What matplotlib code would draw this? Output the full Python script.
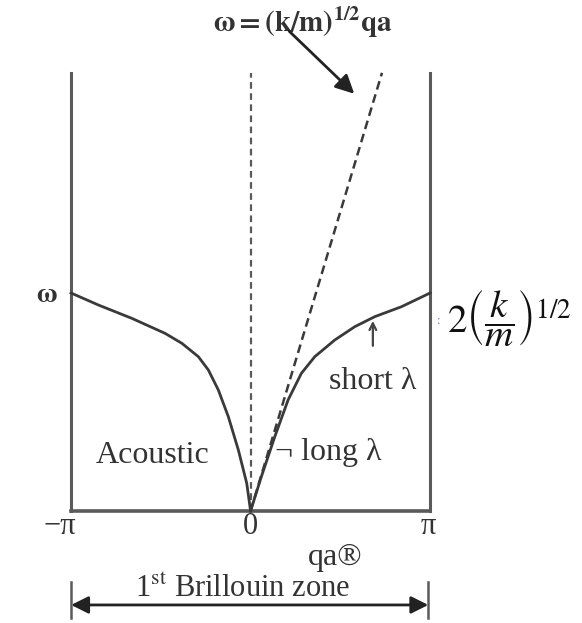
import numpy as np
import matplotlib.pyplot as plt

plt.rcParams['font.family'] = ['Liberation Serif', 'DejaVu Serif']
plt.rcParams['mathtext.fontset'] = 'stix'

# =========================
# Curva de dispersión (qa, omega en unidades de (k/m)^1/2)
# =========================
qa_izq = [-np.pi, -2.664, -2.080, -1.497, -1.204, -0.914, -0.739, -0.564,
          -0.389, -0.214, -0.067, 0.0]
w_izq = [2.00, 1.890, 1.768, 1.630, 1.539, 1.416, 1.294, 1.110,
         0.865, 0.560, 0.254, 0.0]

qa_der = [0.0, 0.189, 0.424, 0.656, 0.889, 1.124, 1.474, 1.824, 2.174, 2.640, np.pi]
w_der = [0.0, 0.315, 0.682, 1.018, 1.263, 1.416, 1.569, 1.691, 1.783, 1.874, 2.00]

# Recta del límite de onda larga y borde superior
qa_recta = [0.0, 2.30]
w_recta = [0.0, 4.02]
w_tope = 4.02

etiquetas_x = ['−π', '0', 'π']
pos_x = [-3.33, 0.0, 3.11]

# =========================
# Figura
# =========================
fig = plt.figure(figsize=(5.82, 6.23), dpi=100)
ax = fig.add_axes([0, 0, 1, 1])
ax.set_xlim(-4.385, 5.80)
ax.set_ylim(-1.0275, 4.688)
ax.axis('off')

gris = '#5a5a5a'
oscuro = '#3a3a3a'
texto = '#333333'

# marco de la zona
ax.plot([-np.pi, -np.pi], [0, w_tope], color=gris, lw=2.2)
ax.plot([np.pi, np.pi], [0, w_tope], color=gris, lw=2.2)
ax.plot([-np.pi, np.pi], [0, 0], color=gris, lw=2.6)

# líneas discontinuas
ax.plot([0, 0], [0, w_tope], color=gris, lw=1.6, ls=(0, (3, 2)))
ax.plot(qa_recta, w_recta, color=oscuro, lw=1.8, ls=(0, (3.5, 2)))

# rama acústica
ax.plot(qa_izq, w_izq, color=oscuro, lw=2.0, solid_joinstyle='round')
ax.plot(qa_der, w_der, color=oscuro, lw=2.0, solid_joinstyle='round')

# =========================
# Textos
# =========================
ax.text(0.92, 4.48, r'$\mathbf{\omega = (k/m)^{1/2}qa}$', fontsize=21,
        ha='center', va='center', color=texto)
ax.annotate('', xy=(1.85, 3.81), xytext=(0.64, 4.42),
            arrowprops=dict(arrowstyle='-|>', color='#222222', lw=2.0,
                            mutation_scale=28))

ax.text(-3.56, 1.98, r'$\mathbf{\omega}$', fontsize=20, ha='center', va='center',
        color=texto)

ax.text(3.30, 1.74, ':', fontsize=9, ha='center', va='center', color='#6a7aa0')
ax.text(3.43, 1.76, r'$2\left(\dfrac{k}{m}\right)^{1/2}$', fontsize=28,
        ha='left', va='center', color='#111111')

ax.text(2.14, 1.19, 'short λ', fontsize=23, ha='center', va='center', color=texto)
ax.annotate('', xy=(2.14, 1.77), xytext=(2.14, 1.49),
            arrowprops=dict(arrowstyle='->', color='#444444', lw=1.6,
                            mutation_scale=12))

ax.text(0.43, 0.54, '¬ long λ', fontsize=23, ha='left', va='center', color=texto)
ax.text(-1.72, 0.51, 'Acoustic', fontsize=23, ha='center', va='center', color=texto)

for x, lab in zip(pos_x, etiquetas_x):
    ax.text(x, -0.14, lab, fontsize=22, ha='center', va='center', color=texto)

ax.text(1.48, -0.43, 'qa®', fontsize=23, ha='center', va='center', color=texto)

# zona de Brillouin
ax.text(-0.13, -0.72, r'1$^{\mathrm{st}}$ Brillouin zone', fontsize=22,
        ha='center', va='center', color=texto)
ax.annotate('', xy=(-3.14, -0.862), xytext=(3.11, -0.862),
            arrowprops=dict(arrowstyle='<|-|>', color='#222222', lw=2.0,
                            mutation_scale=26, shrinkA=0, shrinkB=0))
ax.plot([-3.14, -3.14], [-0.651, -0.982], color=gris, lw=1.8)
ax.plot([3.11, 3.11], [-0.651, -0.982], color=gris, lw=1.8)

plt.savefig('out.png', dpi=100)
